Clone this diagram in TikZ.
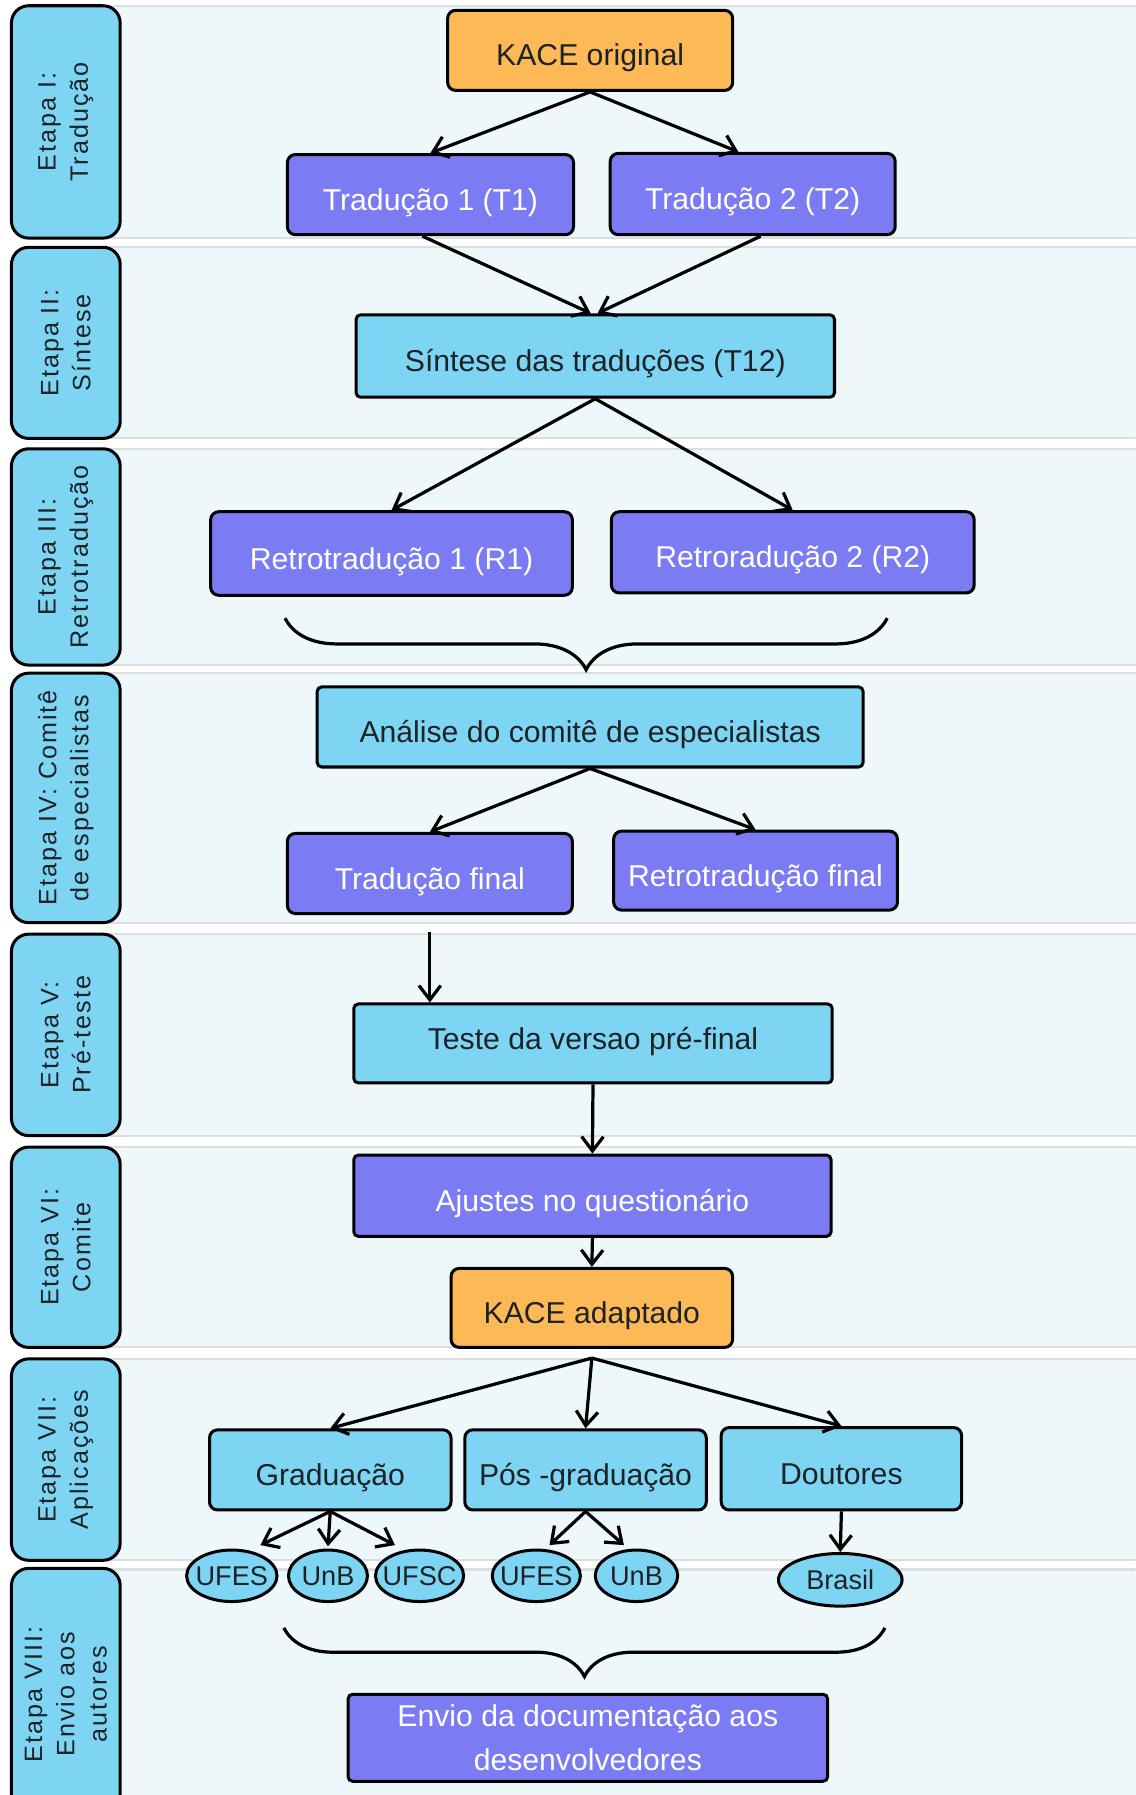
\documentclass[tikz,border=0pt]{standalone}
\usepackage{fontspec}
\setmainfont{Liberation Sans}
\newfontfamily\etapafont[LetterSpace=8]{Liberation Sans}
\usetikzlibrary{arrows.meta,shapes.geometric,decorations.pathreplacing}
\definecolor{laranja}{HTML}{FDB955}
\definecolor{roxo}{HTML}{7B7BF3}
\definecolor{azul}{HTML}{7ED5F3}
\definecolor{fundo}{HTML}{EEF8FB}
\definecolor{cinza}{HTML}{D9DFE1}
\definecolor{texto}{HTML}{1C2226}

\begin{document}
\begin{tikzpicture}[x=0.02cm, y=-0.02cm,
            lane/.style={fill=fundo, draw=cinza, line width=1pt},
            etapa/.style={draw, rectangle, rounded corners=0.3cm, fill=azul, line width=1.5pt, rotate=90, minimum height=1.9cm, align=center, text=texto, font=\etapafont\fontsize{12.5}{16}\selectfont},
            box/.style={draw, rectangle, rounded corners=0.14cm, line width=1.5pt, align=center, inner sep=2pt, font=\fontsize{15}{18}\selectfont},
            lowtext/.style={text height=15.5pt, text depth=0pt},
            lightbox/.style={box, lowtext, fill=azul, text=texto},
            purplebox/.style={box, lowtext, fill=roxo, text=white},
            orangebox/.style={box, lowtext, fill=laranja, text=texto},
            oval/.style={draw, ellipse, fill=azul, line width=1.5pt, inner xsep=-3pt, inner ysep=0pt, minimum height=0.9cm, text=texto, font=\fontsize{13.5}{16}\selectfont},
            arrow/.style={-{Straight Barb[length=2.5mm,width=3.8mm]}, line width=1.6pt},
            curly/.style={decorate, line width=1.6pt}
        ]

% Page and lanes
            \clip (0,0) rectangle (992,1568);
            \fill [white] (0,0) rectangle (992,1568);
            \draw [lane] (90,5) rectangle (1000,208);
            \draw [lane] (90,216) rectangle (1000,383);
            \draw [lane] (90,392) rectangle (1000,581);
            \draw [lane] (90,588) rectangle (1000,806);
            \draw [lane] (90,816) rectangle (1000,992);
            \draw [lane] (90,1002) rectangle (1000,1177);
            \draw [lane] (90,1187) rectangle (1000,1363);
            \draw [lane] (90,1371) rectangle (1000,1600);

% Stage labels on the left
            \node (etapa1) [etapa, minimum width=4.06cm] at (57.5,106.5) {Etapa I:\\Tradução};
            \node (etapa2) [etapa, minimum width=3.34cm] at (57.5,299.5) {Etapa II:\\Síntese};
            \node (etapa3) [etapa, minimum width=3.78cm] at (57.5,486.5) {Etapa III:\\Retrotradução};
            \node (etapa4) [etapa, minimum width=4.36cm] at (57.5,697) {Etapa IV: Comitê\\de especialistas};
            \node (etapa5) [etapa, minimum width=3.52cm] at (57.5,904) {Etapa V:\\Pré-teste};
            \node (etapa6) [etapa, minimum width=3.5cm] at (57.5,1089.5) {Etapa VI:\\Comite};
            \node (etapa7) [etapa, minimum width=3.52cm] at (57.5,1275) {Etapa VII:\\Aplicações};
            \node (etapa8) [etapa, minimum width=4.4cm] at (57.5,1480) {Etapa VIII:\\Envio aos\\autores};

% Translation and synthesis
            \node (kaceorig) [orangebox, minimum width=4.98cm, minimum height=1.4cm] at (515.5,44) {KACE original};
            \node (t1) [purplebox, minimum width=5cm, minimum height=1.4cm] at (376,170) {Tradução 1 (T1)};
            \node (t2) [purplebox, minimum width=4.98cm, minimum height=1.42cm] at (657.5,169.5) {Tradução 2 (T2)};
            \node (sintese) [lightbox, rounded corners=0.08cm, minimum width=8.36cm, minimum height=1.44cm] at (520,311) {Síntese das traduções (T12)};

% Back translations
            \node (r1) [purplebox, minimum width=6.32cm, minimum height=1.46cm] at (342,483.5) {Retrotradução 1 (R1)};
            \node (r2) [purplebox, minimum width=6.34cm, minimum height=1.42cm] at (692.5,482.5) {Retroradução 2 (R2)};

% Committee
            \node (analise) [lightbox, rounded corners=0.08cm, minimum width=9.54cm, minimum height=1.4cm] at (515.5,635) {Análise do comitê de especialistas};
            \node (tradfinal) [purplebox, minimum width=4.98cm, minimum height=1.4cm] at (375.5,763) {Tradução final};
            \node (retrofinal) [purplebox, minimum width=4.96cm, minimum height=1.38cm] at (660,760.5) {Retrotradução final};

% Pre-test and adjustments
            \node (teste) [lightbox, text height=5.6pt, rounded corners=0.08cm, minimum width=8.36cm, minimum height=1.38cm] at (518,911.5) {Teste da versao pré-final};
            \node (ajustes) [purplebox, rounded corners=0.08cm, minimum width=8.34cm, minimum height=1.42cm] at (517.5,1044.5) {Ajustes no questionário};
            \node (kaceadapt) [orangebox, minimum width=4.92cm, minimum height=1.38cm] at (517,1142.5) {KACE adaptado};

% Applications
            \node (grad) [lightbox, minimum width=4.22cm, minimum height=1.4cm] at (288.5,1284) {Graduação};
            \node (posgrad) [lightbox, minimum width=4.22cm, minimum height=1.4cm] at (511.5,1284) {Pós -graduação};
            \node (doutores) [lightbox, minimum width=4.2cm, minimum height=1.44cm] at (735,1283) {Doutores};

            \node (ufes1) [oval, minimum width=1.58cm] at (202.5,1376.5) {UFES};
            \node (unb1) [oval, minimum width=1.38cm] at (286.5,1376.5) {UnB};
            \node (ufsc) [oval, minimum width=1.54cm] at (366.5,1376.5) {UFSC};
            \node (ufes2) [oval, minimum width=1.54cm] at (468.5,1376.5) {UFES};
            \node (unb2) [oval, minimum width=1.44cm] at (556,1376.5) {UnB};
            \node (brasil) [oval, minimum width=2.16cm, minimum height=0.92cm] at (734,1380) {Brasil};

% Sending to the authors
            \node (envio) [box, fill=roxo, text=white, rounded corners=0.08cm, minimum width=8.38cm, minimum height=1.52cm, font=\fontsize{15}{21.6}\selectfont] at (513.5,1518) {Envio da documentação aos\\desenvolvedores};

% Split point and brace end points
            \coordinate (split) at ([yshift=-0.16cm]kaceadapt.south);
            \coordinate (chave1l) at (249,540);
            \coordinate (chave1r) at (775,540);
            \coordinate (chave2l) at (248,1422);
            \coordinate (chave2r) at (773,1422);

% Arrows
            \draw [arrow] (kaceorig.south) -- (t1.north);
            \draw [arrow] (kaceorig.south) -- ([xshift=-0.25cm]t2.north);
            \draw [arrow] ([xshift=-0.14cm]t1.south) -- ([xshift=-0.08cm]sintese.north);
            \draw [arrow] ([xshift=0.14cm]t2.south) -- ([xshift=0.04cm]sintese.north);
            \draw [arrow] (sintese.south) -- (r1.north);
            \draw [arrow] (sintese.south) -- (r2.north);

            \draw [curly, decoration={brace, mirror, amplitude=0.9cm}] (chave1l) -- (chave1r);

            \draw [arrow] (analise.south) -- (tradfinal.north);
            \draw [arrow] (analise.south) -- (retrofinal.north);
            \draw [arrow, shorten <=0.3cm] (tradfinal.south) -- (tradfinal.south |- teste.north);
            \draw [arrow] (teste.south) -- (ajustes.north);
            \draw [arrow] (ajustes.south) -- (kaceadapt.north);

            \draw [arrow] (split) -- (grad.north);
            \draw [arrow] (split) -- (posgrad.north);
            \draw [arrow] (split) -- (doutores.north);

% Short arrows down to the universities
            \draw [arrow] (grad.south) -- ([xshift=0.5cm, yshift=0.06cm]ufes1.north);
            \draw [arrow] (grad.south) -- ([yshift=0.04cm]unb1.north);
            \draw [arrow] (grad.south) -- ([xshift=-0.43cm, yshift=0.06cm]ufsc.north);
            \draw [arrow] (posgrad.south) -- ([xshift=0.23cm, yshift=0.06cm]ufes2.north);
            \draw [arrow] (posgrad.south) -- ([xshift=-0.22cm, yshift=0.06cm]unb2.north);
            \draw [arrow] (doutores.south) -- (brasil.north);

            \draw [curly, decoration={brace, mirror, amplitude=0.85cm}] (chave2l) -- (chave2r);

        \end{tikzpicture}
\end{document}
